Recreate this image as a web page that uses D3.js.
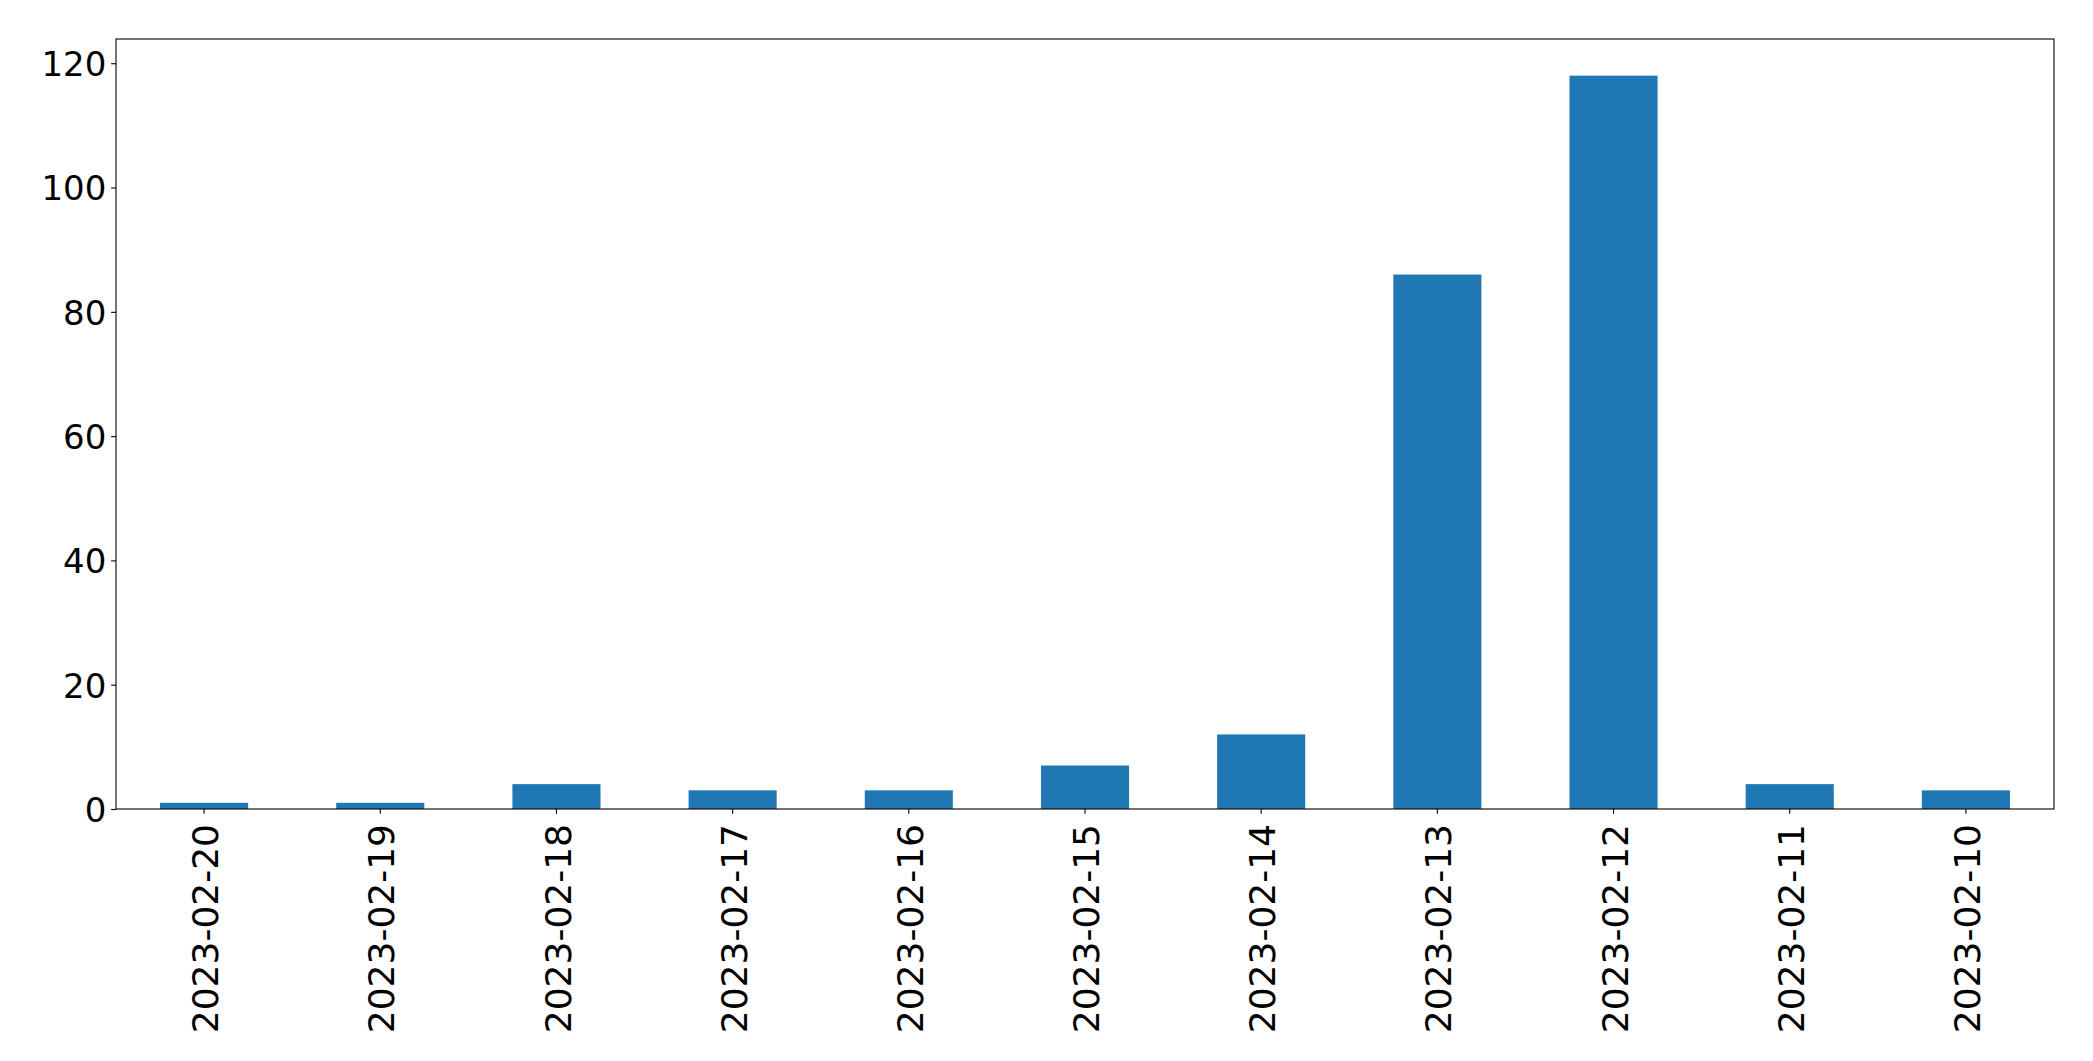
<!DOCTYPE html>
<html>
<head>
<meta charset="utf-8">
<script src="https://cdn.jsdelivr.net/npm/d3@7"></script>
<style>
html, body { margin: 0; padding: 0; background: #fff; }
svg { display: block; }
text { font-family: "DejaVu Sans", sans-serif; }
</style>
</head>
<body>
<script>
const categories = ["2023-02-20","2023-02-19","2023-02-18","2023-02-17","2023-02-16","2023-02-15","2023-02-14","2023-02-13","2023-02-12","2023-02-11","2023-02-10"];
const values = [1, 1, 4, 3, 3, 7, 12, 86, 118, 4, 3];
const yTicks = [0, 20, 40, 60, 80, 100, 120];

const W = 2093, H = 1061;
const mLeft = 116, mRight = 2054, mTop = 39, mBottom = 809;
const yFontPx = 34;
const xFontPx = 36;
const tickLen = 4.86, pad = 4.86;

const svg = d3.select("body").append("svg").attr("width", W).attr("height", H);

const x = d3.scaleBand().domain(categories).range([mLeft, mRight]).paddingInner(0.5).paddingOuter(0.25);
const y = d3.scaleLinear().domain([0, d3.max(values) * 1.05]).range([mBottom, mTop]);

svg.append("g").selectAll("rect").data(values).join("rect")
  .attr("x", (d, i) => x(categories[i]))
  .attr("width", x.bandwidth())
  .attr("y", d => y(d))
  .attr("height", d => y(0) - y(d))
  .attr("fill", "#1f77b4");

// Y axis
const yAxis = d3.axisLeft(y).tickValues(yTicks).tickSize(tickLen).tickPadding(pad).tickFormat(d3.format("d"));
const gy = svg.append("g").attr("transform", `translate(${mLeft},0)`).call(yAxis);
gy.select(".domain").remove();
gy.selectAll(".tick line").attr("stroke", "#000").attr("stroke-width", 1.1);
gy.selectAll(".tick text").attr("font-size", yFontPx).attr("fill", "#000")
  .attr("font-family", "DejaVu Sans").attr("dy", "0.364em");

// X axis
const xAxis = d3.axisBottom(x).tickSize(tickLen).tickPadding(pad);
const gx = svg.append("g").attr("transform", `translate(0,${mBottom})`).call(xAxis);
gx.select(".domain").remove();
gx.selectAll(".tick line").attr("stroke", "#000").attr("stroke-width", 1.1);
gx.selectAll(".tick text").attr("font-size", xFontPx).attr("fill", "#000")
  .attr("font-family", "DejaVu Sans")
  .attr("text-anchor", "end")
  .attr("y", 0).attr("x", 0)
  .attr("dy", "0.39em")
  .attr("transform", "translate(0,15) rotate(-90)");

// Frame
svg.append("rect").attr("x", mLeft).attr("y", mTop).attr("width", mRight - mLeft).attr("height", mBottom - mTop)
  .attr("fill", "none").attr("stroke", "#000").attr("stroke-width", 1.1);
</script>
</body>
</html>
